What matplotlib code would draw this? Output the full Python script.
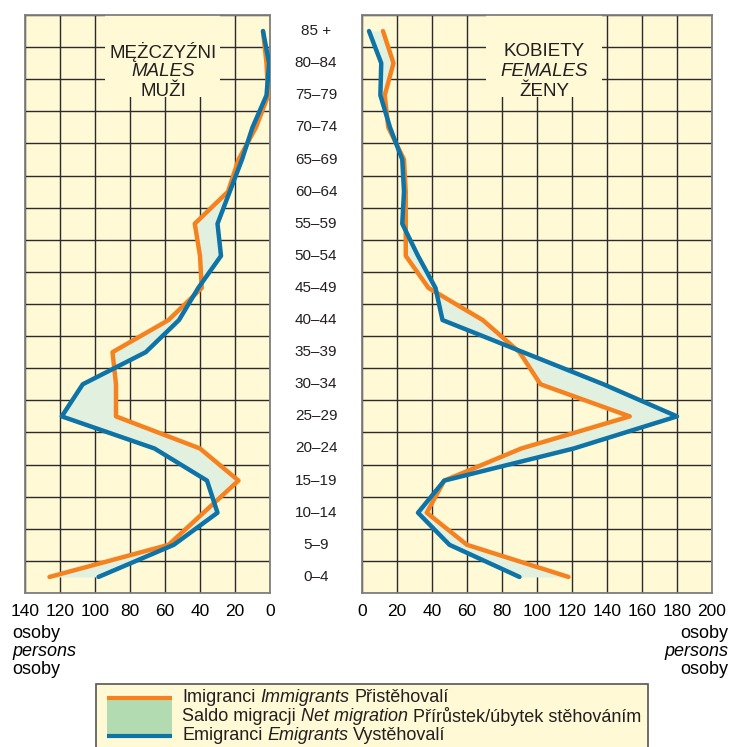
import numpy as np
import matplotlib
matplotlib.use("Agg")
import matplotlib.pyplot as plt
import matplotlib.transforms as mtransforms
from matplotlib.patches import Rectangle

plt.rcParams['font.family'] = ['Liberation Sans', 'DejaVu Sans']

# age groups, bottom to top
ages = ['0–4', '5–9', '10–14', '15–19', '20–24', '25–29', '30–34', '35–39', '40–44',
        '45–49', '50–54', '55–59', '60–64', '65–69', '70–74', '75–79', '80–84', '85 +']

# males
m_imm = [126, 58, 38, 18, 40, 88, 88, 90, 58, 39, 40, 43, 24, 18, 8, 1, 2, 4]
m_emi = [98, 55, 30, 36, 66, 119, 107, 71, 52, 41, 28, 30, 23, 16, 10, 2, 0.5, 4]

# females
f_imm = [118, 60, 37, 47, 91, 153, 102, 90, 69, 38, 25, 25, 25, 24, 15, 13, 18, 12]
f_emi = [90, 50, 32, 47, 121, 180, 138, 92, 46, 42, 32, 23, 24, 23, 16, 10.5, 11, 4]

left_ticks = [140, 120, 100, 80, 60, 40, 20, 0]
right_ticks = [0, 20, 40, 60, 80, 100, 120, 140, 160, 180, 200]

BG = '#FFF9D5'
ORANGE = '#F5821F'
BLUE = '#0E73A6'
FILL = '#E2F0E0'
LEG_GREEN = '#B3DBB2'
GRID = '#2B2B2B'

W, H = 742, 747
fig = plt.figure(figsize=(W / 100, H / 100), dpi=100)


def px_axes(x0, y0, x1, y1):
    return fig.add_axes([x0 / W, (H - y1) / H, (x1 - x0) / W, (y1 - y0) / H])


axL = px_axes(25, 15, 270, 593)
axR = px_axes(362, 15, 712, 593)
y = np.arange(len(ages))

for ax, imm, emi, ticks, lim in [(axL, m_imm, m_emi, left_ticks, (140, 0)),
                                  (axR, f_imm, f_emi, right_ticks, (0, 200))]:
    ax.set_facecolor(BG)
    ax.set_xlim(*lim)
    ax.set_ylim(-0.5, len(ages) - 0.5)
    ax.set_xticks(ticks)
    ax.set_xticklabels([str(t) for t in ticks], fontsize=12.5)
    ax.set_yticks(np.arange(-0.5, len(ages), 1.0))
    ax.set_yticklabels([])
    ax.tick_params(length=0, pad=8)
    ax.set_axisbelow(True)
    ax.grid(True, color=GRID, lw=1.0)
    for s in ax.spines.values():
        s.set_color('#7F7F7F')
        s.set_linewidth(1.3)
    ax.fill_betweenx(y, imm, emi, color=FILL, lw=0, zorder=2)
    ax.plot(imm, y, color=ORANGE, lw=3.2, zorder=3, solid_capstyle='round')
    ax.plot(emi, y, color=BLUE, lw=3.2, zorder=4, solid_capstyle='round')

# title boxes
ytop = len(ages) - 0.5
axL.add_patch(Rectangle((28.6, 14.95), 94.3 - 28.6, ytop - 14.95, facecolor=BG,
                        edgecolor='none', zorder=1))
axR.add_patch(Rectangle((71, 14.95), 137.3 - 71, ytop - 14.95, facecolor=BG,
                        edgecolor='none', zorder=1))
for ax, xc, lines in [(axL, 61, ['MĘŻCZYŹNI', 'MALES', 'MUŽI']),
                      (axR, 104, ['KOBIETY', 'FEMALES', 'ŽENY'])]:
    for k, (txt, yy) in enumerate(zip(lines, [16.36, 15.74, 15.12])):
        ax.text(xc, yy, txt, ha='center', va='center', fontsize=13.5, color='#231F20',
                style='italic' if k == 1 else 'normal', zorder=5)

# age labels between panels
trans = mtransforms.blended_transform_factory(fig.transFigure, axL.transData)
for i, lab in enumerate(ages):
    fig.text(316 / W, i, lab, transform=trans, ha='center', va='center',
             fontsize=11, color='#231F20')

# unit labels
for txt, yy, st in [('osoby', 633, 'normal'), ('persons', 652, 'italic'), ('osoby', 670, 'normal')]:
    fig.text(12 / W, 1 - yy / H, txt, ha='left', va='center', fontsize=13, style=st)
    fig.text(728 / W, 1 - yy / H, txt, ha='right', va='center', fontsize=13, style=st)

# legend
lg = fig.add_axes([0, 0, 1, 1])
lg.set_xlim(0, W)
lg.set_ylim(H, 0)
lg.axis('off')
lg.add_patch(Rectangle((96, 684), 552, 80, facecolor=BG, edgecolor='#555555', lw=1.2))
lg.add_patch(Rectangle((107, 698), 65, 37, facecolor=LEG_GREEN, edgecolor='none'))
lg.plot([107, 172], [697.5, 697.5], color=ORANGE, lw=3.0, solid_capstyle='butt')
lg.plot([107, 172], [735.5, 735.5], color=BLUE, lw=3.0, solid_capstyle='butt')

legend_rows = [
    [('Imigranci', 'normal'), ('Immigrants', 'italic'), ('Přistěhovalí', 'normal')],
    [('Saldo migracji', 'normal'), ('Net migration', 'italic'), ('Přírůstek/úbytek stěhováním', 'normal')],
    [('Emigranci', 'normal'), ('Emigrants', 'italic'), ('Vystěhovalí', 'normal')],
]
renderer = fig.canvas.get_renderer()
for row, yy in zip(legend_rows, [697, 716.5, 736]):
    x = 182
    for txt, st in row:
        t = lg.text(x, yy, txt, ha='left', va='center', fontsize=13, style=st,
                    color='#231F20')
        bb = t.get_window_extent(renderer)
        x += bb.width + 5

fig.savefig('out.png', dpi=100)
